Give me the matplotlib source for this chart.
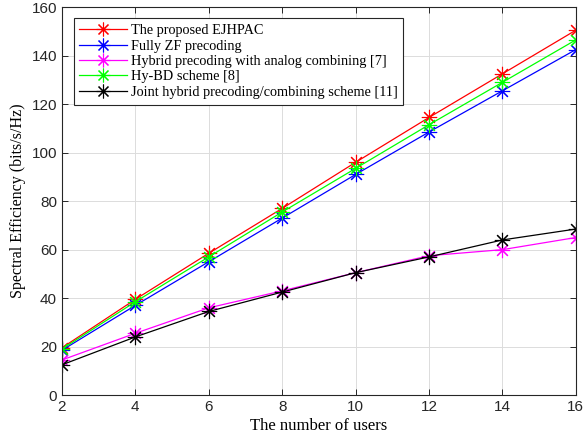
import matplotlib
matplotlib.use('Agg')
import matplotlib.pyplot as plt

# users on x axis
users = [2, 4, 6, 8, 10, 12, 14, 16]

# spectral efficiency (bits/s/Hz)
se_proposed = [19.5, 39.5, 58.5, 77.0, 96.0, 114.5, 132.5, 150.5]
se_fully_zf = [18.5, 37.0, 55.0, 73.0, 91.0, 108.5, 125.5, 142.5]
se_hybrid_analog = [14.5, 25.5, 36.0, 43.0, 50.5, 57.5, 60.0, 65.0]
se_hy_bd = [19.0, 38.5, 57.0, 75.5, 93.5, 111.5, 129.0, 146.5]
se_joint = [12.5, 24.0, 34.5, 42.5, 50.5, 57.0, 64.0, 68.5]

labels = ['The proposed EJHPAC',
          'Fully ZF precoding',
          'Hybrid precoding with analog combining [7]',
          'Hy-BD scheme [8]',
          'Joint hybrid precoding/combining scheme [11]']
colors = ['#ff0000', '#0000ff', '#ff00ff', '#00ff00', '#000000']
series = [se_proposed, se_fully_zf, se_hybrid_analog, se_hy_bd, se_joint]

fig = plt.figure(figsize=(5.84, 4.47), dpi=100)
ax = fig.add_axes([0.106, 0.116, 0.88, 0.868])

for y, lab, c in zip(series, labels, colors):
    ax.plot(users, y, color=c, lw=0.9, marker=(8, 2, 0), markersize=11,
            markeredgewidth=0.8, label=lab)

ax.set_xlim(2, 16)
ax.set_ylim(0, 160)
ax.set_xticks(users)
ax.set_yticks(range(0, 161, 20))
ax.grid(True, color='#dcdcdc', lw=0.7)
ax.set_axisbelow(True)

for lab in ax.get_xticklabels() + ax.get_yticklabels():
    lab.set_family('Liberation Sans')
    lab.set_fontsize(11)
ax.tick_params(direction='in', top=True, right=True, length=4,
               color='#262626', labelcolor='#262626', width=0.7)
for s in ax.spines.values():
    s.set_color('#262626')
    s.set_linewidth(0.8)

ax.set_xlabel('The number of users', family='Liberation Serif', fontsize=12,
              labelpad=3)
ax.set_ylabel('Spectral Efficiency (bits/s/Hz)', family='Liberation Serif',
              fontsize=11.5, labelpad=4)

leg = ax.legend(loc='upper left', bbox_to_anchor=(0.023, 0.971),
                prop={'family': 'Liberation Serif', 'size': 10.3},
                fancybox=False, edgecolor='#262626', framealpha=1,
                handlelength=3.3, borderpad=0.4, labelspacing=0.17,
                handletextpad=0.3, borderaxespad=0.0, markerscale=0.9)
leg.get_frame().set_linewidth(0.8)

fig.savefig('out.png', dpi=100)
